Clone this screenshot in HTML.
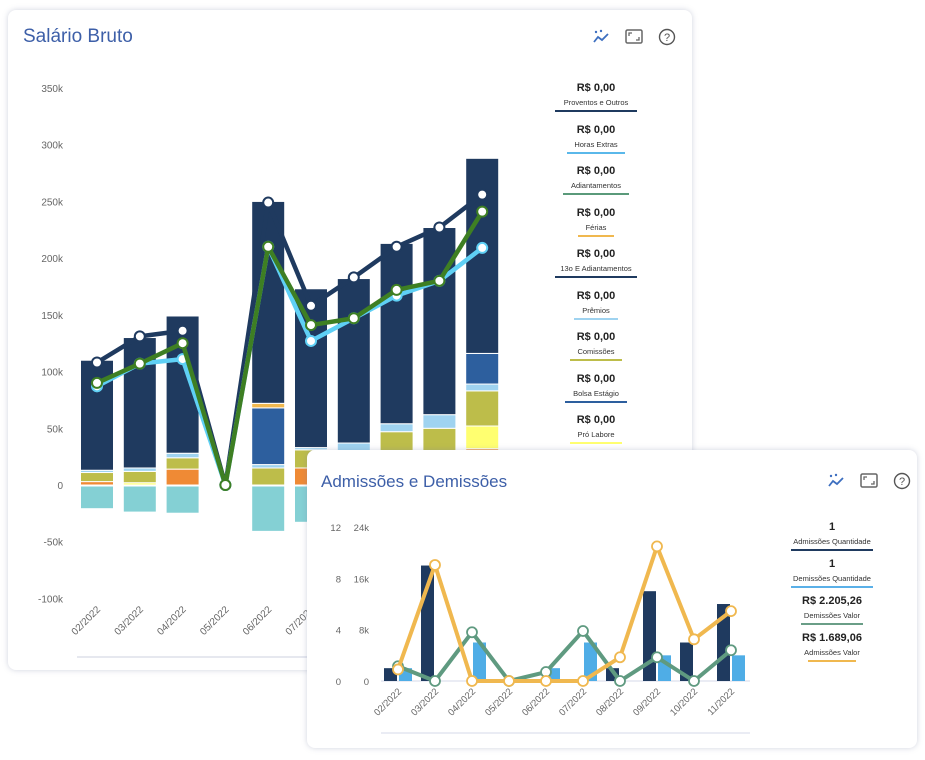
<!DOCTYPE html>
<html><head><meta charset="utf-8">
<style>
html,body{margin:0;padding:0;background:#fff;width:925px;height:760px;overflow:hidden;font-family:"Liberation Sans",sans-serif}
.layer{position:absolute;left:0;top:0;width:925px;height:760px}
.card{position:absolute;background:#fff;border-radius:8px;box-shadow:0 0 6px rgba(120,130,160,.35)}
.title{position:absolute;color:#3d5fa8;font-size:19px}
.leg{position:absolute;text-align:center;color:#222}
.leg b{display:block;font-size:11px}
.leg span{display:block;font-size:7.5px;margin-top:4px;color:#333}
.leg i{display:block;margin:3px auto 0;height:2px}
</style></head><body>
<div class="card" style="left:8px;top:10px;width:684px;height:660px"></div>
<div class="title" style="left:23px;top:26px">Salário Bruto</div>
<svg class="layer" id="s1"></svg>
<div id="leg1"></div>
<div class="card" style="left:307px;top:450px;width:610px;height:298px"></div>
<div class="title" style="left:321px;top:472px;font-size:17px">Admissões e Demissões</div>
<svg class="layer" id="s2"></svg>
<div id="leg2"></div>
<script>
const months=["02/2022","03/2022","04/2022","05/2022","06/2022","07/2022","08/2022","09/2022","10/2022","11/2022"];
const yTicks1=[350,300,250,200,150,100,50,0,-50,-100];
const teal=[-20,-23,-24,0,-40,-32,-30,-30,-30,-30];
const orange=[3,0,14,0,0,15,0,0,0,32];
const yellow=[0,2,0,0,0,0,0,0,0,20];
const olive=[8,10,10,0,15,16,30,47,50,31];
const lightb=[2,3,4,0,3,2,7,7,12,6];
const midblue=[0,0,0,0,50,0,0,0,0,27];
const gold=[0,0,0,0,4,0,0,0,0,0];
const navy=[97,115,121,0,178,140,145,159,165,172];
const lineNavy=[108,131,136,0,249,158,183,210,227,256];
const lineGreen=[90,107,125,0,210,141,147,172,180,241];
const lineLight=[87,107,111,0,210,127,147,167,180,209];
const legend1=[["R$ 0,00","Proventos e Outros","#1f3a5f",82],["R$ 0,00","Horas Extras","#5ab8ea",58],["R$ 0,00","Adiantamentos","#5a9a7a",66],["R$ 0,00","Férias","#f0b84f",36],["R$ 0,00","13o E Adiantamentos","#1f3a5f",82],["R$ 0,00","Prêmios","#9fd3f0",44],["R$ 0,00","Comissões","#bdbd4a",52],["R$ 0,00","Bolsa Estágio","#2d5f9e",62],["R$ 0,00","Pró Labore","#ffff70",52]];
const admQ=[1,9,0,0,0,0,1,7,3,6];
const demQ=[1,0,3,0,1,3,0,2,0,2];
const admV=[1.8,18.1,0,0,0,0,3.7,21,6.5,10.9];
const demV=[2.3,0,7.6,0,1.4,7.8,0,3.7,0,4.8];
const yTicks2a=[12,8,4,0];
const yTicks2b=["24k","16k","8k","0"];
const legend2=[["1","Admissões Quantidade","#1f3a5f",82],["1","Demissões Quantidade","#5ab0e8",82],["R$ 2.205,26","Demissões Valor","#6a9e87",62],["R$ 1.689,06","Admissões Valor","#f0b84f",48]];

const NS="http://www.w3.org/2000/svg";
function mk(p,t,a){const e=document.createElementNS(NS,t);for(const k in a)e.setAttribute(k,a[k]);p.appendChild(e);return e;}
const s1=document.getElementById('s1');
const y1=v=>485-v*1.1343;const x1=i=>97+i*42.8;
yTicks1.forEach(v=>{const t=mk(s1,'text',{x:63,y:y1(v)+4,'text-anchor':'end','font-size':10,fill:'#666'});t.textContent=v===0?'0':v+'k';

});
const stacks=[[orange,'#ef8a35'],[yellow,'#ffff70'],[olive,'#bdbd4a'],[lightb,'#9fd3f0'],[midblue,'#2d5f9e'],[gold,'#f0b84f'],[navy,'#1f3a5f']];
months.forEach((m,i)=>{
 if(teal[i]<0){const r=mk(s1,'rect',{x:x1(i)-16.5,y:y1(0)+1,width:33,height:y1(teal[i])-y1(0),fill:'#84d0d4',stroke:'#fff','stroke-width':1});
 
 }
 let acc=0;
 stacks.forEach(([arr,c])=>{const v=arr[i];if(v>0){const r=mk(s1,'rect',{x:x1(i)-16.5,y:y1(acc+v),width:33,height:y1(acc)-y1(acc+v),fill:c,stroke:'#fff','stroke-width':1});
 
 }acc+=v;});
 const t=mk(s1,'text',{transform:`translate(${x1(i)+4},${610}) rotate(-45)`,'text-anchor':'end','font-size':10,fill:'#666'});t.textContent=m;
 
 
});
mk(s1,'line',{x1:77,x2:500,y1:657,y2:657,stroke:'#dde0ea','stroke-width':1.5});
[[lineNavy,'#1f3a5f'],[lineLight,'#5fd0f5'],[lineGreen,'#3e7f23']].forEach(([arr,c])=>{
 const pl=mk(s1,'polyline',{points:arr.map((v,i)=>x1(i)+','+y1(v)).join(' '),fill:'none',stroke:c,'stroke-width':4.5,'stroke-linejoin':'round'});
 
 
 arr.forEach((v,i)=>{const d=mk(s1,'circle',{cx:x1(i),cy:y1(v),r:5,fill:'#fff',stroke:c,'stroke-width':2});
 
 });
});
function icons(svg,x,y){
 const g=mk(svg,'g',{});
 
 
 mk(g,'polyline',{points:`${x-7},${y+5} ${x-3},${y} ${x+1},${y+3} ${x+7},${y-3}`,fill:'none',stroke:'#3d6fc0','stroke-width':1.8});
 mk(g,'circle',{cx:x-5,cy:y-5,r:1.2,fill:'#3d6fc0'});mk(g,'circle',{cx:x,cy:y-6,r:1.2,fill:'#3d6fc0'});
 const f=mk(svg,'rect',{x:x+25,y:y-7,width:16,height:13,rx:1.5,fill:'none',stroke:'#666','stroke-width':1.5});
 
 
 mk(svg,'path',{d:`M${x+28} ${y-1}v-3h3M${x+38} ${y}v3h-3`,fill:'none',stroke:'#666','stroke-width':1.3});
 const h=mk(svg,'circle',{cx:x+66,cy:y,r:7.5,fill:'none',stroke:'#555','stroke-width':1.4});
 
 
 const q=mk(svg,'text',{x:x+66,y:y+4,'text-anchor':'middle','font-size':11,fill:'#555'});q.textContent='?';
}
icons(s1,601,37);
function legend(id,items,cx,y0,step){
 const c=document.getElementById(id);
 items.forEach((it,k)=>{const d=document.createElement('div');d.className='leg';
 
 
 d.style.left=(cx-60)+'px';d.style.width='120px';d.style.top=(y0+k*step)+'px';
 d.innerHTML=`<b>${it[0]}</b><span>${it[1]}</span><i style="width:${it[3]}px;background:${it[2]}"></i>`;c.appendChild(d);});
}
legend('leg1',legend1,596,82,41.5);
const s2=document.getElementById('s2');
const x2=i=>398+i*37;const yq=v=>681-v*12.83;const yv=v=>681-v*6.41;
yTicks2a.forEach((v,k)=>{const t=mk(s2,'text',{x:341,y:yq(v)+4,'text-anchor':'end','font-size':9.5,fill:'#666'});t.textContent=v;
 
 
 const t2=mk(s2,'text',{x:369,y:yq(v)+4,'text-anchor':'end','font-size':9.5,fill:'#666'});t2.textContent=yTicks2b[k];
 
 });
mk(s2,'line',{x1:381,x2:750,y1:681,y2:681,stroke:'#e3e6f0','stroke-width':1.5});
mk(s2,'line',{x1:381,x2:750,y1:733,y2:733,stroke:'#e3e6f0','stroke-width':1.5});
months.forEach((m,i)=>{
 if(admQ[i]>0){const r=mk(s2,'rect',{x:x2(i)-14,y:yq(admQ[i]),width:13,height:yq(0)-yq(admQ[i]),fill:'#1f3a5f'});
 
 }
 if(demQ[i]>0){const r=mk(s2,'rect',{x:x2(i)+1,y:yq(demQ[i]),width:13,height:yq(0)-yq(demQ[i]),fill:'#4fade6'});
 
 }
 const t=mk(s2,'text',{transform:`translate(${x2(i)+4},${692}) rotate(-45)`,'text-anchor':'end','font-size':9.5,fill:'#666'});t.textContent=m;
 
 
});
[[demV,'#5f9a80'],[admV,'#f0b84f']].forEach(([arr,c])=>{
 const pl=mk(s2,'polyline',{points:arr.map((v,i)=>x2(i)+','+yv(v)).join(' '),fill:'none',stroke:c,'stroke-width':4,'stroke-linejoin':'round'});
 
 
 arr.forEach((v,i)=>{const d=mk(s2,'circle',{cx:x2(i),cy:yv(v),r:5,fill:'#fff',stroke:c,'stroke-width':1.8});
 
 });
});
icons(s2,836,481);
legend('leg2',legend2,832,521,37);
</script>
</body></html>
